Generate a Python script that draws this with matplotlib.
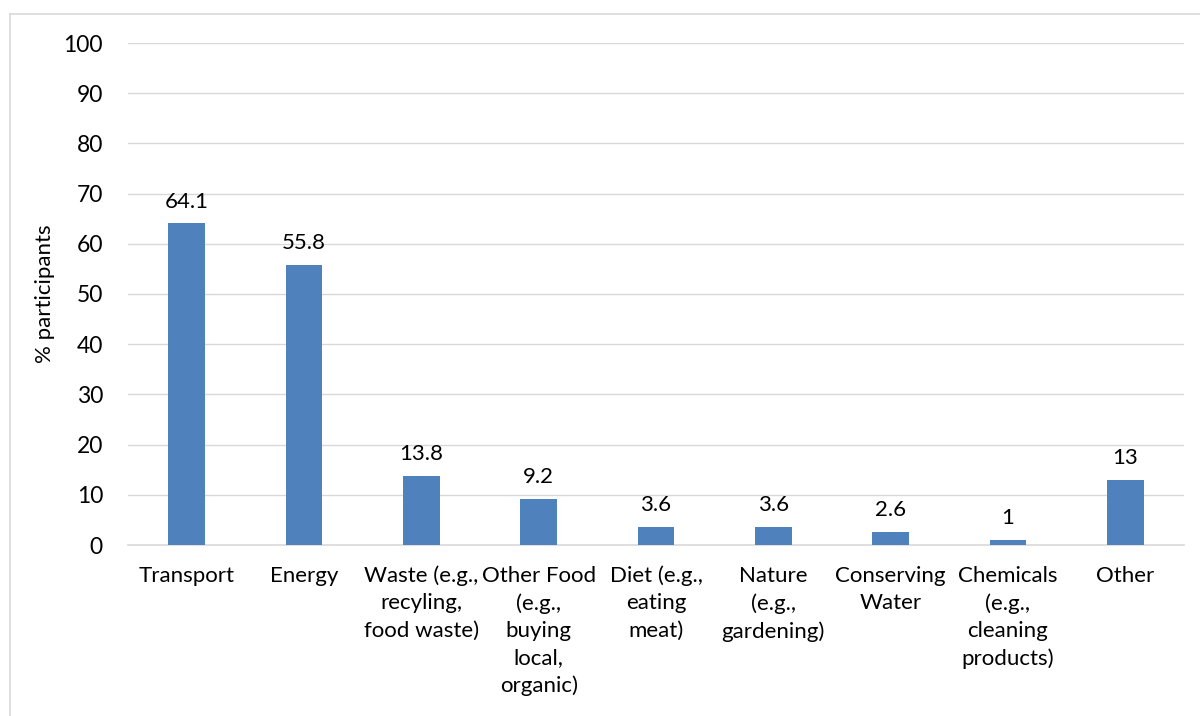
import matplotlib
matplotlib.use("Agg")
import matplotlib.pyplot as plt
from matplotlib.lines import Line2D

categories = ["Transport", "Energy", "Waste (e.g.,\nrecyling,\nfood waste)",
              "Other Food\n(e.g.,\nbuying\nlocal,\norganic)", "Diet (e.g.,\neating\nmeat)",
              "Nature\n(e.g.,\ngardening)", "Conserving\nWater",
              "Chemicals\n(e.g.,\ncleaning\nproducts)", "Other"]
values = [64.1, 55.8, 13.8, 9.2, 3.6, 3.6, 2.6, 1, 13]
value_labels = ["64.1", "55.8", "13.8", "9.2", "3.6", "3.6", "2.6", "1", "13"]
yticks = [0, 10, 20, 30, 40, 50, 60, 70, 80, 90, 100]

plt.rcParams['font.family'] = ['Lato', 'DejaVu Sans']
FS = 16
fig = plt.figure(figsize=(12, 7.16), dpi=100)
ax = fig.add_axes([128/1200, 1-545/716, (1184-128)/1200, (545-43)/716])

x = list(range(len(categories)))
ax.bar(x, values, width=0.313, color="#4F81BD", zorder=3)
for xi, v, lab in zip(x, values, value_labels):
    ax.text(xi, v + 2.3, lab, ha="center", va="bottom", fontsize=FS, color="black")

ax.set_xlim(-0.5, len(categories) - 0.5)
ax.set_ylim(0, 100)
ax.set_yticks(yticks)
ax.set_yticklabels([str(t) for t in yticks], fontsize=16.5)
ax.set_xticks(x)
ax.set_xticklabels(categories, fontsize=FS, linespacing=1.44, va="top")
ax.tick_params(axis="y", length=0, pad=18)
ax.tick_params(axis="x", length=0, pad=15)
ax.grid(axis="y", color="#D9D9D9", linewidth=1, zorder=0)
for s in ["top", "right", "left"]:
    ax.spines[s].set_visible(False)
ax.spines["bottom"].set_color("#D9D9D9")
ax.spines["bottom"].set_linewidth(1.2)
ax.set_ylabel("% participants", fontsize=FS)
ax.yaxis.set_label_coords(-(128-55)/(1184-128), 0.5)

# outer chart border
fig.add_artist(Line2D([10/1200, 10/1200], [0, 1-14/716], transform=fig.transFigure, color="#D9D9D9", lw=1.2))
fig.add_artist(Line2D([10/1200, 1], [1-14/716, 1-14/716], transform=fig.transFigure, color="#D9D9D9", lw=1.2))

fig.savefig("out.png", dpi=100, facecolor="white")
